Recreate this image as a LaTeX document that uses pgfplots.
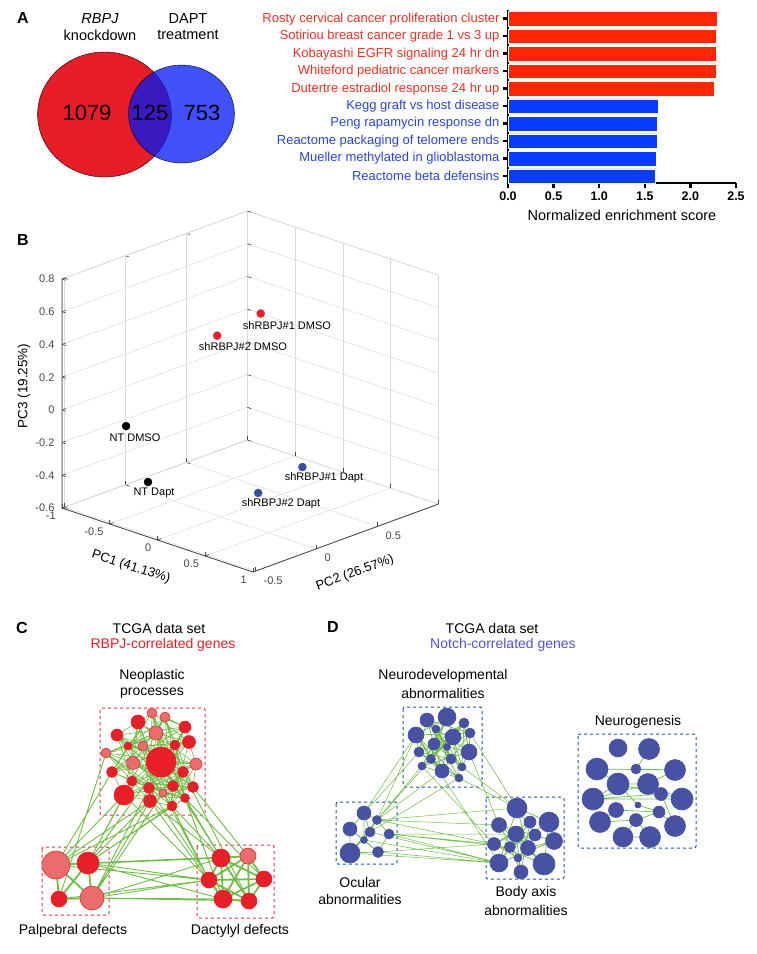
\documentclass[border=0pt]{standalone}
\usepackage{fontspec}
\setmainfont{Liberation Sans}
\usepackage{pgfplots}
\pgfplotsset{compat=1.18}
\newcommand\fs[1]{\fontsize{#1}{#1}\selectfont}
\definecolor{vred}{RGB}{232,28,36}
\definecolor{vblue}{RGB}{0,24,244}
\definecolor{bred}{RGB}{255,38,0}
\definecolor{bblue}{RGB}{10,60,255}
\definecolor{lred}{RGB}{232,50,35}
\definecolor{lblue}{RGB}{40,70,215}
\definecolor{cgreen}{RGB}{112,190,70}
\definecolor{nred}{RGB}{232,30,40}
\definecolor{nlight}{RGB}{236,108,108}
\definecolor{nlightd}{RGB}{215,50,60}
\definecolor{nblue}{RGB}{72,82,165}
\definecolor{boxred}{RGB}{215,55,65}
\definecolor{boxblue}{RGB}{30,90,160}
\definecolor{tblue}{RGB}{80,80,220}
\definecolor{pblue}{RGB}{50,80,170}
\definecolor{tickgray}{RGB}{70,70,70}
\pgfplotsset{
  netnodes/.style 2 args={scatter, only marks, mark=*,
    scatter/use mapped color={draw=#2, fill=#1},
    visualization depends on={\thisrow{r}\as\rr},
    scatter/@pre marker code/.append style={/tikz/mark size=\rr pt},
    line width=0.6pt},
  netedges/.style={cgreen, no markers, unbounded coords=jump, line width=#1},
}
\begin{document}
\begin{tikzpicture}
% ================= canvas axis (pixel coordinates) =================
\begin{axis}[at={(0pt,0pt)}, anchor=north west, x=1pt, y=1pt, y dir=reverse,
  xmin=0, xmax=756, ymin=0, ymax=954, hide axis, clip=false]
% ---- Venn diagram ----
\addplot[only marks, mark=*, mark size=62.5pt, mark options={xscale=1.07, fill=vred, draw=none}] coordinates {(104.5,114.5)};
\addplot[only marks, mark=*, mark size=49pt, mark options={xscale=1.08, fill=vblue, draw=none, fill opacity=0.75}] coordinates {(181.5,114)};
% ---- panel C ----
\draw[boxred, dashed, line width=1pt, rounded corners=2pt] (axis cs:100,708) rectangle (axis cs:205,815);
\draw[boxred, dashed, line width=1pt, rounded corners=2pt] (axis cs:42,847) rectangle (axis cs:109,915);
\draw[boxred, dashed, line width=1pt, rounded corners=2pt] (axis cs:197,845) rectangle (axis cs:274,918);
% Neoplastic internal edges
\addplot[netedges=0.6pt] coordinates {
(152,713)(128,746)(112,772)(163,793)(185,727)(106,753)(149,788)(172,806)(189,742)(196,764)(124,795)(138,722)(175,745)(132,781)(185,798)(117,735)(133,763)(193,787)(165,717)(143,746)(183,772)(150,801)(156,733)(161,762)(173,786)(152,713)(nan,nan)
(152,713)(161,762)(150,801)(143,746)(193,787)(117,735)(132,781)(138,722)(196,764)(172,806)(106,753)(163,793)(128,746)(173,786)(156,733)(183,772)(165,717)(133,763)(185,798)(175,745)(124,795)(189,742)(149,788)(185,727)(112,772)(152,713)(nan,nan)
(152,713)(185,727)(189,742)(175,745)(133,763)(183,772)(173,786)(163,793)(172,806)(138,722)(117,735)(143,746)(161,762)(112,772)(149,788)(124,795)(185,798)(165,717)(156,733)(128,746)(106,753)(196,764)(132,781)(193,787)(150,801)(152,713)(nan,nan)
(152,713)(138,722)(156,733)(189,742)(143,746)(106,753)(133,763)(112,772)(132,781)(173,786)(124,795)(150,801)(172,806)(165,717)(185,727)(117,735)(128,746)(175,745)(161,762)(196,764)(183,772)(149,788)(193,787)(163,793)(185,798)(152,713)(nan,nan)
(152,713)(189,742)(133,763)(173,786)(172,806)(117,735)(161,762)(149,788)(185,798)(156,733)(106,753)(132,781)(150,801)(185,727)(175,745)(183,772)(163,793)(138,722)(143,746)(112,772)(124,795)(165,717)(128,746)(196,764)(193,787)(152,713)
};
% inter-cluster edges C
\addplot[netedges=0.9pt] coordinates {
(124,795)(56,865)(nan,nan)(124,795)(88,863)(nan,nan)(112,772)(56,865)(nan,nan)(150,801)(88,863)(nan,nan)
(150,801)(56,865)(nan,nan)(149,788)(92,898)(nan,nan)(161,762)(88,863)(nan,nan)(132,781)(88,863)(nan,nan)
(172,806)(56,865)(nan,nan)(172,806)(88,863)(nan,nan)(163,793)(92,898)(nan,nan)(106,753)(59,899)(nan,nan)
(185,798)(88,863)(nan,nan)(150,801)(92,898)(nan,nan)
(172,806)(221,858)(nan,nan)(172,806)(209,880)(nan,nan)(185,798)(221,858)(nan,nan)(185,798)(223,899)(nan,nan)
(163,793)(209,880)(nan,nan)(150,801)(221,858)(nan,nan)(150,801)(223,899)(nan,nan)(193,787)(248,856)(nan,nan)
(173,786)(264,879)(nan,nan)(161,762)(221,858)(nan,nan)(124,795)(209,880)(nan,nan)(149,788)(223,899)(nan,nan)
(183,772)(249,901)(nan,nan)
(88,863)(221,858)(nan,nan)(88,863)(209,880)(nan,nan)(92,898)(209,880)(nan,nan)(92,898)(223,899)(nan,nan)
(56,865)(221,858)(nan,nan)(88,863)(223,899)(nan,nan)(92,898)(249,901)(nan,nan)(59,899)(209,880)(nan,nan)
(56,865)(209,880)(nan,nan)(88,863)(248,856)(nan,nan)(92,898)(221,858)
};
\addplot[netedges=1.8pt] coordinates {
(56,865)(88,863)(59,899)(92,898)(56,865)(59,899)(nan,nan)(88,863)(92,898)(nan,nan)
(221,858)(248,856)(264,879)(249,901)(223,899)(209,880)(221,858)(264,879)(223,899)(221,858)(249,901)(209,880)(248,856)(223,899)(nan,nan)
(248,856)(249,901)(nan,nan)(209,880)(264,879)
};
\addplot[netnodes={nred}{nred}] table {
x y r
138 722 7
185 727 6
117 735 6
189 742 6.5
128 746 4
175 745 5
161 762 15
112 772 5.5
183 772 5.5
132 781 5
149 788 5.5
173 786 5.5
193 787 5.5
124 795 10
150 801 6.5
185 798 4.5
172 806 5
88 863 11
59 899 8
221 858 9
209 880 8
264 879 8
223 899 9
249 901 8
};
\addplot[netnodes={nlight}{nlightd}] table {
x y r
152 713 5
165 717 5
156 733 7
143 746 5
106 753 5
133 763 6.5
196 764 6
163 793 4
56 865 14
92 898 12
248 856 8
};
% ---- panel D ----
\draw[boxblue, dashed, line width=1pt, rounded corners=2pt] (axis cs:403,707) rectangle (axis cs:482,787);
\draw[boxblue, dashed, line width=1pt, rounded corners=2pt] (axis cs:336,802) rectangle (axis cs:397,864);
\draw[boxblue, dashed, line width=1pt, rounded corners=2pt] (axis cs:486,797) rectangle (axis cs:564,879);
\draw[boxblue, dashed, line width=1pt, rounded corners=2pt] (axis cs:578,734) rectangle (axis cs:696,848);
\addplot[netedges=0.7pt] coordinates {
(447,717)(416,735)(470,733)(469,752)(422,766)(459,778)(427,720)(436,729)(434,744)(431,759)(442,771)(447,747)(464,723)(453,737)(419,752)(451,759)(462,767)(447,717)(nan,nan)
(447,717)(453,737)(431,759)(459,778)(416,735)(419,752)(442,771)(427,720)(470,733)(451,759)(447,747)(436,729)(469,752)(462,767)(464,723)(434,744)(422,766)(447,717)(nan,nan)
(447,717)(434,744)(462,767)(436,729)(451,759)(427,720)(419,752)(459,778)(453,737)(422,766)(464,723)(469,752)(447,747)(470,733)(442,771)(416,735)(431,759)(447,717)(nan,nan)
(364,813)(370,832)(350,853)(377,820)(389,834)(378,852)(350,829)(364,840)(364,813)(nan,nan)
(364,813)(377,820)(389,834)(378,852)(350,853)(350,829)(364,813)(nan,nan)(377,820)(364,840)(378,852)(nan,nan)
(517,808)(549,822)(554,841)(528,848)(544,864)(499,825)(516,834)(494,844)(518,858)(521,872)(530,822)(535,835)(510,847)(499,863)(517,808)(nan,nan)
(517,808)(535,835)(518,858)(499,825)(554,841)(499,863)(530,822)(494,844)(544,864)(549,822)(510,847)(521,872)(516,834)(528,848)(517,808)(nan,nan)
(649,749)(636,769)(nan,nan)(597,769)(618,784)(nan,nan)(636,769)(675,770)(nan,nan)(597,769)(675,770)(nan,nan)
(618,784)(648,784)(nan,nan)(618,784)(661,794)(nan,nan)(593,799)(682,799)(nan,nan)(593,799)(661,794)(nan,nan)
(593,799)(648,784)(nan,nan)(618,784)(682,799)(nan,nan)(648,784)(682,799)(nan,nan)(616,810)(659,812)(nan,nan)
(638,805)(618,784)(nan,nan)(638,805)(659,812)(nan,nan)(636,820)(659,812)(nan,nan)(600,822)(636,820)(nan,nan)
(623,837)(636,820)(nan,nan)(650,837)(636,820)(nan,nan)(675,826)(659,812)(nan,nan)(623,837)(650,837)(nan,nan)
(600,822)(616,810)(nan,nan)(648,784)(675,770)(nan,nan)(661,794)(675,826)(nan,nan)(618,784)(593,799)
};
\addplot[netedges=0.5pt] coordinates {
(416,735)(377,820)(nan,nan)(419,752)(364,813)(nan,nan)(422,766)(377,820)(nan,nan)(431,759)(377,820)(nan,nan)
(442,771)(377,820)(nan,nan)(459,778)(370,832)(nan,nan)(416,735)(364,813)(nan,nan)
(459,778)(517,808)(nan,nan)(462,767)(517,808)(nan,nan)(469,752)(499,825)(nan,nan)(470,733)(517,808)(nan,nan)
(431,759)(499,863)(nan,nan)(422,766)(494,844)(nan,nan)
(377,820)(499,825)(nan,nan)(389,834)(494,844)(nan,nan)(389,834)(499,863)(nan,nan)(378,852)(499,863)(nan,nan)
(377,820)(494,844)(nan,nan)(389,834)(510,847)(nan,nan)(370,832)(499,863)(nan,nan)(350,853)(499,863)(nan,nan)
(378,852)(494,844)(nan,nan)(377,820)(517,808)(nan,nan)(389,834)(516,834)(nan,nan)(364,840)(499,863)
};
\addplot[netnodes={nblue}{nblue}] table {
x y r
447 717 9
427 720 7
464 723 5
416 735 8
436 729 4
453 737 8
470 733 5
434 744 6
419 752 5
469 752 8
431 759 4.5
451 759 5
422 766 4
442 771 7
462 767 4
459 778 4
447 747 3.5
364 813 7
377 820 4.5
350 829 7
370 832 5
389 834 5
364 840 3.5
350 853 10
378 852 5.5
517 808 10
499 825 7.5
530 822 6
549 822 10
516 834 8
535 835 6
554 841 8.5
494 844 6.5
510 847 5.5
528 848 7.5
518 858 4
499 863 9
544 864 11
521 872 7
618 748 9
649 749 10.5
597 769 11
636 769 5
675 770 10.5
618 784 11
648 784 10.5
661 794 6.5
593 799 11
682 799 11
616 810 7.5
638 805 3
659 812 6
636 820 6.5
600 822 10.5
675 826 10.5
623 837 10
650 837 10.5
};
\end{axis}
% ================= bar chart =================
\begin{axis}[at={(508pt,-10pt)}, anchor=north west, width=228pt, height=173pt, scale only axis,
  xmin=0, xmax=2.5, ymin=-0.5, ymax=9.4, y dir=reverse,
  axis x line*=bottom, axis y line*=left, axis line style={line width=2.5pt, -},
  tick style={line width=2.5pt, black}, tick align=outside, major tick length=5pt,
  xtick={0,0.5,1,1.5,2,2.5}, ytick={0,...,9},
  xticklabel style={font=\fs{12.5}\bfseries},
  x tick label style={/pgf/number format/.cd, fixed, fixed zerofill, precision=1, assume math mode=true},
  yticklabel style={font=\fs{13}},
  yticklabels={{\color{lred}Rosty cervical cancer proliferation cluster},
    {\color{lred}Sotiriou breast cancer grade 1 vs 3 up},
    {\color{lred}Kobayashi EGFR signaling 24 hr dn},
    {\color{lred}Whiteford pediatric cancer markers},
    {\color{lred}Dutertre estradiol response 24 hr up},
    {\color{lblue}Kegg graft vs host disease},
    {\color{lblue}Peng rapamycin response dn},
    {\color{lblue}Reactome packaging of telomere ends},
    {\color{lblue}Mueller methylated in glioblastoma},
    {\color{lblue}Reactome beta defensins}},
  xlabel={Normalized enrichment score}, xlabel style={font=\fs{14.5}, yshift=-3pt},
  clip=false]
\addplot[xbar, bar width=14.5pt, bar shift=0pt, fill=bred, draw=white, line width=0.5pt] coordinates {(2.294,0) (2.287,1) (2.287,2) (2.28,3) (2.26,4)};
\addplot[xbar, bar width=14.5pt, bar shift=0pt, fill=bblue, draw=white, line width=0.5pt] coordinates {(1.643,5) (1.64,6) (1.636,7) (1.625,8) (1.618,9)};
\end{axis}
% ================= 3D PCA plot =================
\begin{axis}[at={(220.9pt,-418.6pt)}, anchor=origin,
  x={(95.5pt,-32pt)}, y={(122pt,44.7pt)}, z={(0pt,163.6pt)},
  xmin=-1, xmax=1, ymin=-0.52, ymax=1, zmin=-0.6, zmax=0.8,
  xtick={-1,-0.5,0,0.5,1}, ytick={-0.5,0,0.5}, ztick={-0.6,-0.4,-0.2,0,0.2,0.4,0.6,0.8},
  grid=major, grid style={line width=0.5pt, black!14},
  axis line style={line width=0.6pt, black!18},
  tick pos=left, major tick length=4pt,
  tick style={tickgray, line width=0.6pt},
  ticklabel style={font=\fs{11}, text=tickgray, /pgf/number format/assume math mode=true},
  xticklabel style={anchor=north east, inner sep=1pt, xshift=-5pt, yshift=-3pt},
  yticklabel style={anchor=north west, inner sep=1pt, xshift=7pt, yshift=-4pt},
  zticklabel style={xshift=-4pt},
  clip=false]
\draw[tickgray, line width=0.8pt] (axis cs:-1,-0.52,0.8) -- (axis cs:-1,-0.52,-0.6) -- (axis cs:1,-0.52,-0.6) -- (axis cs:1,1,-0.6);
\addplot3[only marks, mark=*, mark size=4pt, color=nred] coordinates {(-0.35,0.6,0.41) (-0.55,0.4,0.29)};
\addplot3[only marks, mark=*, mark size=4pt, color=black] coordinates {(-0.61,-0.3,-0.083) (-0.38,-0.3,-0.38)};
\addplot3[only marks, mark=*, mark size=4pt, color=pblue] coordinates {(0.47,0.3,-0.286) (0.39,0,-0.378)};
\end{axis}
% ================= texts (1pt = 1px, y downward) =================
\node[font=\fs{22}] at (87pt,-113pt) {1079};
\node[font=\fs{22}] at (150pt,-113pt) {125};
\node[font=\fs{22}] at (202pt,-113pt) {753};
\node[font=\fs{14.5}\itshape] at (100pt,-19pt) {RBPJ};
\node[font=\fs{14.5}] at (100pt,-35pt) {knockdown};
\node[font=\fs{14.5}] at (188pt,-19pt) {DAPT};
\node[font=\fs{14.5}] at (188pt,-35pt) {treatment};
\node[font=\fs{16}\bfseries] at (23pt,-18pt) {A};
\node[font=\fs{16}\bfseries] at (23pt,-240pt) {B};
\node[font=\fs{13.5}, rotate=90] at (24pt,-386pt) {PC3 (19.25\%)};
\node[font=\fs{13}, rotate=-18] at (131pt,-567pt) {PC1 (41.13\%)};
\node[font=\fs{13}, rotate=20] at (355pt,-573pt) {PC2 (26.57\%)};
\node[font=\fs{11}] at (287pt,-326pt) {shRBPJ\#1 DMSO};
\node[font=\fs{11}] at (243pt,-347pt) {shRBPJ\#2 DMSO};
\node[font=\fs{11}] at (135pt,-438pt) {NT DMSO};
\node[font=\fs{11}] at (154pt,-493pt) {NT Dapt};
\node[font=\fs{11}] at (324pt,-478pt) {shRBPJ\#1 Dapt};
\node[font=\fs{11}] at (281pt,-504pt) {shRBPJ\#2 Dapt};
\node[font=\fs{16}\bfseries] at (22pt,-628pt) {C};
\node[font=\fs{14}] at (159pt,-628pt) {TCGA data set};
\node[font=\fs{14}, text=vred] at (163pt,-645pt) {RBPJ-correlated genes};
\node[font=\fs{14}] at (152pt,-676pt) {Neoplastic};
\node[font=\fs{14}] at (152pt,-693pt) {processes};
\node[font=\fs{14}] at (73pt,-931pt) {Palpebral defects};
\node[font=\fs{14}] at (240pt,-931pt) {Dactylyl defects};
\node[font=\fs{16}\bfseries] at (333pt,-627pt) {D};
\node[font=\fs{14}] at (492pt,-628pt) {TCGA data set};
\node[font=\fs{14}, text=tblue] at (503pt,-645pt) {Notch-correlated genes};
\node[font=\fs{14}] at (443pt,-676pt) {Neurodevelopmental};
\node[font=\fs{14}] at (443pt,-693pt) {abnormalities};
\node[font=\fs{14}] at (638pt,-722pt) {Neurogenesis};
\node[font=\fs{14}] at (360pt,-882pt) {Ocular};
\node[font=\fs{14}] at (360pt,-899pt) {abnormalities};
\node[font=\fs{14}] at (526pt,-893pt) {Body axis};
\node[font=\fs{14}] at (526pt,-910pt) {abnormalities};
\pgfresetboundingbox
\path[use as bounding box] (0pt,0pt) rectangle (756pt,-954pt);
\end{tikzpicture}
\end{document}
